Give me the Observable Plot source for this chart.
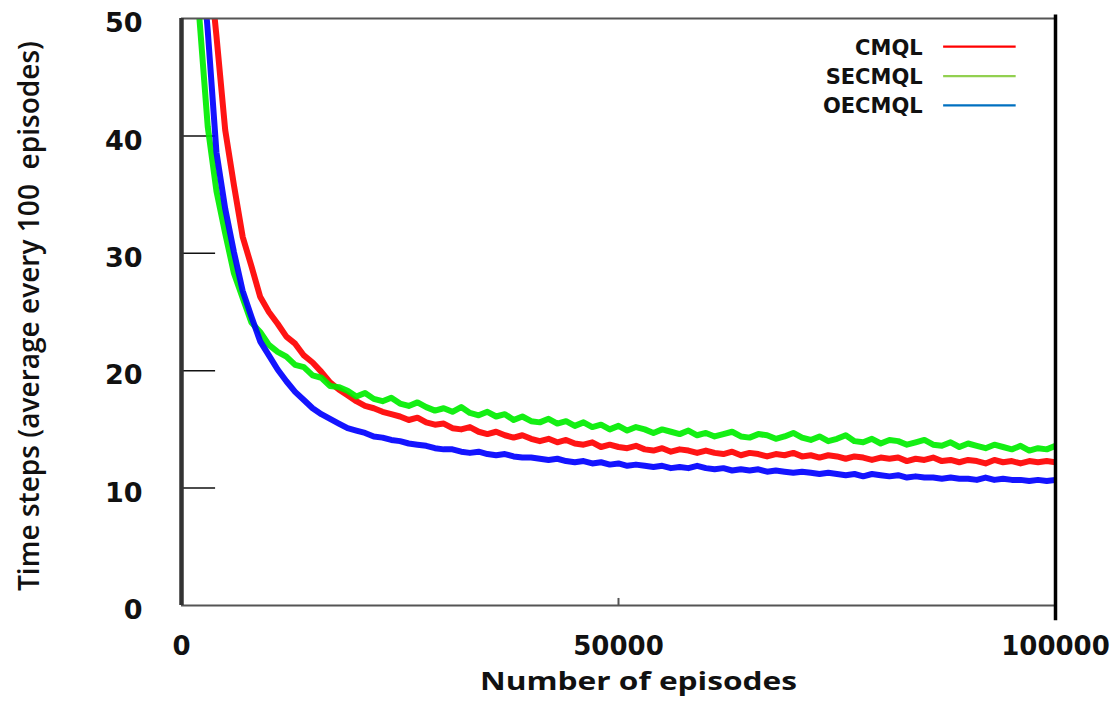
<!DOCTYPE html>
<html>
<head>
<meta charset="utf-8">
<script src="https://cdn.jsdelivr.net/npm/d3@7"></script>
<script src="https://cdn.jsdelivr.net/npm/@observablehq/plot@0.6"></script>
<style>
  html, body { margin: 0; padding: 0; background: #fff; }
  #chart { width: 1114px; height: 704px; }
</style>
</head>
<body>
<div id="chart"></div>
<script>
// ---- data ----
const episodes = [
  1000,2000,3000,4000,5000,6000,7000,8000,9000,10000,
  11000,12000,13000,14000,15000,16000,17000,18000,19000,20000,
  21000,22000,23000,24000,25000,26000,27000,28000,29000,30000,
  31000,32000,33000,34000,35000,36000,37000,38000,39000,40000,
  41000,42000,43000,44000,45000,46000,47000,48000,49000,50000,
  51000,52000,53000,54000,55000,56000,57000,58000,59000,60000,
  61000,62000,63000,64000,65000,66000,67000,68000,69000,70000,
  71000,72000,73000,74000,75000,76000,77000,78000,79000,80000,
  81000,82000,83000,84000,85000,86000,87000,88000,89000,90000,
  91000,92000,93000,94000,95000,96000,97000,98000,99000,100000
];
const cmql = [
  72,64,56,48.5,40.5,35.8,31.4,28.9,26.3,25.0,
  24.0,22.9,22.3,21.3,20.7,19.9,19.0,18.4,17.9,17.4,
  17.0,16.8,16.5,16.3,16.1,15.8,16.0,15.6,15.4,15.5,
  15.1,15.0,15.2,14.8,14.6,14.8,14.5,14.3,14.5,14.2,
  14.0,14.2,13.9,14.1,13.8,13.7,13.9,13.5,13.7,13.5,
  13.4,13.6,13.3,13.2,13.4,13.1,13.3,13.2,13.0,13.2,
  13.0,12.9,13.1,12.8,13.0,12.9,12.7,12.9,12.8,13.0,
  12.7,12.8,12.6,12.8,12.7,12.5,12.7,12.6,12.4,12.6,
  12.5,12.6,12.3,12.5,12.4,12.6,12.3,12.4,12.2,12.4,
  12.3,12.1,12.4,12.2,12.3,12.1,12.3,12.2,12.3,12.2
];
const secmql = [
  60,50.5,40.8,35.3,31.7,28.3,26.2,24.1,23.3,22.2,
  21.6,21.2,20.5,20.3,19.6,19.4,18.7,18.6,18.3,17.8,
  18.1,17.6,17.4,17.7,17.2,17.0,17.3,16.9,16.6,16.8,
  16.5,16.9,16.4,16.2,16.5,16.1,16.3,15.8,16.1,15.7,
  15.6,15.9,15.5,15.7,15.3,15.6,15.2,15.4,15.0,15.3,
  14.9,15.2,15.0,14.7,15.0,14.8,14.6,14.9,14.5,14.7,
  14.4,14.6,14.8,14.4,14.3,14.6,14.5,14.2,14.4,14.7,
  14.3,14.1,14.4,14.0,14.2,14.5,14.0,13.9,14.2,13.8,
  14.1,14.0,13.7,13.9,14.1,13.7,13.6,13.9,13.5,13.8,
  13.6,13.4,13.7,13.5,13.3,13.6,13.2,13.4,13.3,13.6
];
const oecmql = [
  66,58,49,38.6,33.8,30.1,26.8,24.6,22.5,21.3,
  20.1,19.1,18.2,17.5,16.8,16.3,15.9,15.5,15.1,14.9,
  14.7,14.4,14.3,14.1,14.0,13.8,13.7,13.6,13.4,13.3,
  13.3,13.1,13.0,13.1,12.9,12.8,12.9,12.7,12.6,12.6,
  12.5,12.4,12.5,12.3,12.2,12.3,12.1,12.2,12.0,12.1,
  11.9,12.0,11.9,11.8,11.9,11.7,11.8,11.7,11.9,11.7,
  11.6,11.7,11.5,11.6,11.5,11.6,11.4,11.5,11.4,11.3,
  11.4,11.3,11.2,11.3,11.2,11.1,11.2,11.0,11.2,11.1,
  11.0,11.1,10.9,11.0,10.9,10.9,10.8,10.9,10.8,10.8,
  10.7,10.9,10.7,10.8,10.7,10.7,10.6,10.7,10.6,10.7
];
const seriesNames = ["CMQL", "SECMQL", "OECMQL"];
const lineColors = ["#ff0000", "#00ee00", "#0000ff"];
const legendColors = ["#ff0000", "#92d050", "#0070c0"];
const yTicks = [0, 10, 20, 30, 40, 50];
const xTicks = [0, 50000, 100000];
const yTitle = "Time steps (average every 100  episodes)";
const xTitle = "Number of episodes";

// ---- build tables ----
const allSeries = [cmql, secmql, oecmql];
const rows = [];
seriesNames.forEach((name, s) => {
  episodes.forEach((ep, i) => rows.push({series: name, ep, value: allSeries[s][i]}));
});
const legendRows = seriesNames.map((name, i) => ({name, i}));

const boldNum = "DejaVu Sans";
const lineMarks = seriesNames.map((name, s) =>
  Plot.line(rows.filter(d => d.series === name), {
    x: "ep", y: "value", stroke: lineColors[s], strokeWidth: 6,
    strokeOpacity: 0.92, curve: "linear", clip: true
  })
);

const chart = Plot.plot({
  width: 1114,
  height: 704,
  marginLeft: 181,
  marginRight: 59,
  marginTop: 18,
  marginBottom: 99,
  style: {background: "#fff", overflow: "visible"},
  x: {domain: [0, 100000], axis: null},
  y: {domain: [0, 50], axis: null},
  marks: [
    // inward y ticks
    Plot.ruleY(yTicks.filter(t => t > 0 && t < 50), {x1: 0, x2: 3900, stroke: "#111", strokeWidth: 1.5}),
    ...lineMarks,
    // frame
    Plot.ruleY([50], {stroke: "#555", strokeWidth: 2}),
    Plot.ruleY([0], {stroke: "#555", strokeWidth: 2}),
    Plot.ruleX([0], {stroke: "#333", strokeWidth: 4.5}),
    Plot.ruleX([100000], {y1: -1.3, y2: 50.3, stroke: "#000", strokeWidth: 3.5}),
    Plot.ruleX([50000], {y1: 0, y2: 0.6, stroke: "#555", strokeWidth: 2}),
    // y tick labels
    Plot.text(yTicks, {x: 0, y: d => d, text: d => String(d), textAnchor: "end", dx: -39, dy: 5,
      fontFamily: boldNum, fontWeight: "bold", fontSize: 27, fill: "#111"}),
    // x tick labels
    Plot.text(xTicks, {x: d => d, y: 0, text: d => String(d), dy: 41,
      fontFamily: boldNum, fontWeight: "bold", fontSize: 26, fill: "#111"}),
    // axis titles
    Plot.text([xTitle], {frameAnchor: "bottom", dx: 20, dy: 84, text: d => d,
      fontFamily: "Open Sans", fontWeight: "bold", fontSize: 25, fill: "#111"}),
    Plot.text([yTitle], {frameAnchor: "left", textAnchor: "middle", dx: -151, dy: 4, rotate: -90, text: d => d,
      fontFamily: "Open Sans", fontWeight: 600, fontSize: 28, fill: "#111"}),
    // legend
    Plot.text(legendRows, {x: 84800, y: d => 47.5 - 2.5 * d.i, text: "name", textAnchor: "end",
      fontFamily: boldNum, fontWeight: "bold", fontSize: 21, fill: "#111"}),
    Plot.ruleY(legendRows, {y: d => 47.6 - 2.5 * d.i, x1: 87200, x2: 95500,
      stroke: (d) => legendColors[d.i], strokeWidth: 2.2})
  ]
});

// stretch the titles like the original condensed font
chart.querySelectorAll("text").forEach(t => {
  if (t.textContent === yTitle) { t.setAttribute("textLength", 550); t.setAttribute("lengthAdjust", "spacingAndGlyphs"); }
  if (t.textContent === xTitle) { t.setAttribute("textLength", 317); t.setAttribute("lengthAdjust", "spacingAndGlyphs"); }
});
document.getElementById("chart").appendChild(chart);
</script>
</body>
</html>
